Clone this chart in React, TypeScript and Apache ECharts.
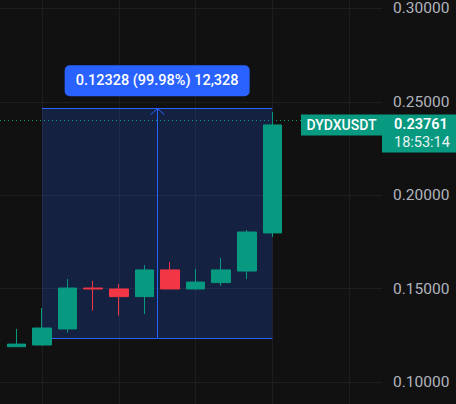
import React, { useEffect, useRef } from "react";
import * as echarts from "echarts";

const symbolName = "DYDXUSDT";
const countdown = "18:53:14";
const opens = [0.1189, 0.1198, 0.1284, 0.1503, 0.1498, 0.1457, 0.16, 0.1498, 0.1532, 0.1594, 0.1798];
const closes = [0.1203, 0.1289, 0.1503, 0.1498, 0.1457, 0.16, 0.1498, 0.1535, 0.16, 0.1803, 0.23761];
const lows = [0.1189, 0.1196, 0.1264, 0.1382, 0.1355, 0.1364, 0.1497, 0.1497, 0.1514, 0.1551, 0.1776];
const highs = [0.1284, 0.1396, 0.1551, 0.1541, 0.1525, 0.1626, 0.1642, 0.1605, 0.1664, 0.1814, 0.2445];
const priceTicks = [0.1, 0.15, 0.2, 0.25, 0.3];
const timeGridCandles = [1, 4, 7, 10, 13];
const lastPrice = 0.23761;
const measureFrom = 0.1233;
const measureTo = 0.24658;
const measureStartCandle = 1;
const measureEndCandle = 10;

const UP = "#089981";
const DOWN = "#f23645";
const BLUE = "#2962ff";
const GRID = "#1e1e1e";
const FONT = "Roboto";

export default function App() {
  const ref = useRef<HTMLDivElement>(null);
  useEffect(() => {
    if (!ref.current) return;
    const chart = echarts.init(ref.current, null, { renderer: "svg" });
    const data = opens.map((o, i) => [i, o, closes[i], lows[i], highs[i]]);
    const xMin = -0.639;
    const xMax = 14.283;
    chart.setOption({
      animation: false,
      backgroundColor: "#111111",
      grid: { left: 0, right: 74, top: 0, bottom: 0 },
      xAxis: {
        type: "value",
        min: xMin,
        max: xMax,
        axisLine: { show: false },
        axisTick: { show: false, customValues: timeGridCandles },
        axisLabel: { show: false, customValues: timeGridCandles },
        splitLine: { show: false },
      },
      yAxis: {
        type: "value",
        position: "right",
        min: 0.088223,
        max: 0.304497,
        axisLine: { show: false },
        axisTick: { show: false, customValues: priceTicks },
        splitLine: { show: false },
        axisLabel: {
          customValues: priceTicks,
          color: "#b2b5be",
          fontFamily: FONT,
          fontSize: 15.5,
          margin: 11,
          formatter: (v: number) => v.toFixed(5),
        },
      },
      series: [
        {
          type: "line",
          data: [],
          z: 0,
          silent: true,
          markLine: {
            z: 0,
            silent: true,
            symbol: ["none", "none"],
            label: { show: false },
            lineStyle: { color: GRID, type: "solid", width: 1 },
            data: [
              ...priceTicks.map((v) => ({ yAxis: v })),
              ...timeGridCandles.map((v) => ({ xAxis: v })),
            ],
          },
        },
        {
          type: "candlestick",
          z: 3,
          data,
          encode: { x: 0, y: [1, 2, 3, 4] },
          barWidth: 19,
          itemStyle: {
            color: UP,
            color0: DOWN,
            borderColor: UP,
            borderColor0: DOWN,
            borderWidth: 1,
          },
          markLine: {
            z: 2,
            silent: true,
            symbol: ["none", "none"],
            label: { show: false },
            lineStyle: { color: UP, type: [1, 3], width: 1 },
            data: [{ yAxis: lastPrice }],
          },
        },
      ],
    });

    const px = (x: number, y: number) => chart.convertToPixel({ gridIndex: 0 }, [x, y]) as number[];
    const [x1, yTop] = px(measureStartCandle, measureTo);
    const [x2, yBot] = px(measureEndCandle, measureFrom);
    const xm = (x1 + x2) / 2;
    const diff = measureTo - measureFrom;
    const pct = (diff / measureFrom) * 100;
    const ticks = Math.round(diff / 0.00001);
    const measureText = `${diff.toFixed(5)} (${pct.toFixed(2)}%) ${ticks.toLocaleString("en-US")}`;
    const [gridRight, yPrice] = px(xMax, lastPrice);
    const r = (v: number) => Math.round(v) + 0.5;

    const lblW = 185;
    const lblH = 31;
    const tagH = 21;

    chart.setOption({
      graphic: [
        {
          type: "rect",
          z: 1,
          silent: true,
          shape: { x: x1, y: yTop, width: x2 - x1, height: yBot - yTop },
          style: { fill: "rgba(41,98,255,0.2)" },
        },
        {
          type: "line",
          z: 1,
          shape: { x1: x1, y1: r(yTop), x2: x2, y2: r(yTop) },
          style: { stroke: BLUE, lineWidth: 1 },
        },
        {
          type: "line",
          z: 1,
          shape: { x1: x1, y1: r(yBot), x2: x2, y2: r(yBot) },
          style: { stroke: BLUE, lineWidth: 1 },
        },
        {
          type: "line",
          z: 1,
          shape: { x1: r(xm), y1: yTop, x2: r(xm), y2: yBot },
          style: { stroke: BLUE, lineWidth: 1 },
        },
        {
          type: "polyline",
          z: 1,
          shape: { points: [[r(xm) - 7, yTop + 6.5], [r(xm), yTop + 0.5], [r(xm) + 7, yTop + 6.5]] },
          style: { stroke: BLUE, lineWidth: 1, fill: null },
        },
        {
          type: "rect",
          z: 10,
          shape: { x: xm - lblW / 2, y: yTop - 12 - lblH, width: lblW, height: lblH, r: 5 },
          style: { fill: BLUE },
        },
        {
          type: "text",
          z: 11,
          style: {
            text: measureText,
            x: xm,
            y: yTop - 12 - lblH / 2,
            fill: "#ffffff",
            fontFamily: FONT,
            fontSize: 14.5,
            fontWeight: 500,
            textAlign: "center",
            align: "center",
            textVerticalAlign: "middle",
            verticalAlign: "middle",
          },
        },
        {
          type: "rect",
          z: 10,
          shape: { x: gridRight - 81, y: yPrice - tagH / 2, width: 81, height: tagH },
          style: { fill: UP },
        },
        {
          type: "text",
          z: 11,
          style: {
            text: symbolName,
            x: gridRight - 40.5,
            y: yPrice,
            fill: "#ffffff",
            fontFamily: FONT,
            fontSize: 14,
            fontWeight: 500,
            textAlign: "center",
            align: "center",
            textVerticalAlign: "middle",
            verticalAlign: "middle",
          },
        },
        {
          type: "rect",
          z: 10,
          shape: { x: gridRight, y: yPrice - tagH / 2, width: 456 - gridRight, height: 38 },
          style: { fill: UP },
        },
        {
          type: "text",
          z: 11,
          style: {
            text: lastPrice.toFixed(5),
            x: gridRight + 12,
            y: yPrice - 0.5,
            fill: "#ffffff",
            fontFamily: FONT,
            fontSize: 14.5,
            fontWeight: 600,
            textAlign: "left",
            align: "left",
            textVerticalAlign: "middle",
            verticalAlign: "middle",
          },
        },
        {
          type: "text",
          z: 11,
          style: {
            text: countdown,
            x: gridRight + 12,
            y: yPrice + 17.5,
            fill: "#e8f5f2",
            fontFamily: FONT,
            fontSize: 14.5,
            textAlign: "left",
            align: "left",
            textVerticalAlign: "middle",
            verticalAlign: "middle",
          },
        },
      ],
    });
    return () => chart.dispose();
  }, []);
  return <div ref={ref} style={{ position: "fixed", left: 0, top: 0, width: 456, height: 404 }} />;
}
